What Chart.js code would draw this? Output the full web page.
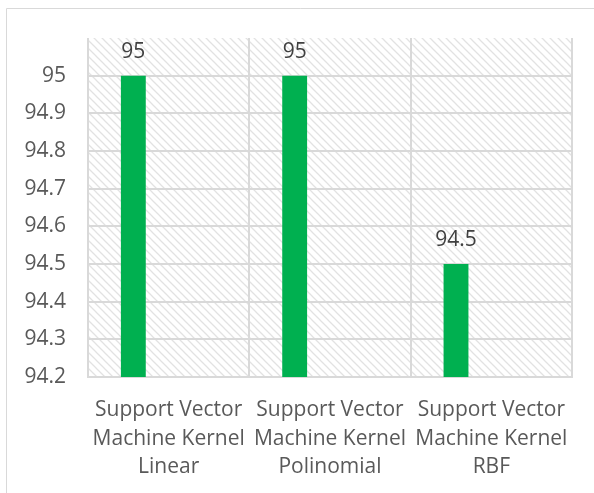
<!DOCTYPE html>
<html>
<head>
<meta charset="utf-8">
<script src="https://cdn.jsdelivr.net/npm/chart.js@4.4.1/dist/chart.umd.min.js"></script>
<style>
  html, body { margin: 0; padding: 0; background: #fff; overflow: hidden; }
  #wrap { position: relative; width: 594px; height: 493px; }
</style>
</head>
<body>
<div id="wrap"><canvas id="accChart" width="594" height="493"></canvas></div>
<script>
// Accuracy per SVM kernel
const kernels = [
  ['Support Vector', 'Machine Kernel', 'Linear'],
  ['Support Vector', 'Machine Kernel', 'Polinomial'],
  ['Support Vector', 'Machine Kernel', 'RBF']
];
const accuracy = [95, 95, 94.5];
// empty series kept so the bars sit in the left slot of each group
const emptySeries = [null, null, null];

const yMin = 94.2;
const yMax = 95.1;
const yStep = 0.1;

const FONT = "'Open Sans', sans-serif";
const GRID = '#d9d9d9';

// light downward-diagonal hatch used as plot background
function makeHatch() {
  const c = document.createElement('canvas');
  c.width = 8; c.height = 8;
  const g = c.getContext('2d');
  g.fillStyle = '#fff';
  g.fillRect(0, 0, 8, 8);
  g.strokeStyle = '#e2e2e2';
  g.lineWidth = 1.3;
  g.beginPath();
  g.moveTo(-2, -2); g.lineTo(10, 10);
  g.moveTo(-2, 6); g.lineTo(2, 10);
  g.moveTo(6, -2); g.lineTo(10, 2);
  g.stroke();
  return g.createPattern(c, 'repeat');
}

const backdrop = {
  id: 'backdrop',
  beforeDraw(chart) {
    const { ctx, chartArea: a } = chart;
    ctx.save();
    ctx.fillStyle = makeHatch();
    ctx.fillRect(a.left, a.top, a.right - a.left, a.bottom - a.top);
    // outer frame (left and top edges)
    ctx.strokeStyle = GRID;
    ctx.lineWidth = 1;
    ctx.beginPath();
    ctx.moveTo(6.5, 493);
    ctx.lineTo(6.5, 8.5);
    ctx.lineTo(594, 8.5);
    ctx.stroke();
    ctx.restore();
  }
};

const valueLabels = {
  id: 'valueLabels',
  afterDatasetsDraw(chart) {
    const { ctx } = chart;
    const meta = chart.getDatasetMeta(0);
    ctx.save();
    ctx.font = '21px ' + FONT;
    ctx.fillStyle = '#404040';
    ctx.textAlign = 'center';
    ctx.textBaseline = 'middle';
    meta.data.forEach((bar, i) => {
      ctx.fillText(String(accuracy[i]), bar.x, bar.y - 24);
    });
    ctx.restore();
  }
};

new Chart(document.getElementById('accChart'), {
  type: 'bar',
  data: {
    labels: kernels,
    datasets: [
      { data: accuracy, backgroundColor: '#00b050', borderWidth: 0 },
      { data: emptySeries, backgroundColor: 'transparent' },
      { data: emptySeries, backgroundColor: 'transparent' }
    ]
  },
  options: {
    responsive: false,
    animation: false,
    categoryPercentage: 0.657,
    barPercentage: 0.704,
    layout: { padding: { top: 38, right: 22, left: 0, bottom: 0 } },
    plugins: {
      legend: { display: false },
      tooltip: { enabled: false }
    },
    scales: {
      y: {
        min: yMin,
        max: yMax,
        afterFit(scale) { scale.width = 88; },
        afterBuildTicks(scale) {
          const t = [];
          for (let i = 0; i <= 8; i++) t.push({ value: +(yMin + i * yStep).toFixed(1) });
          scale.ticks = t;
        },
        ticks: {
          padding: 22,
          color: '#595959',
          font: { family: FONT, size: 21 },
          callback: v => String(v)
        },
        grid: { color: GRID, lineWidth: 2, drawTicks: false },
        border: { display: false }
      },
      x: {
        afterFit(scale) { scale.height = 116; },
        ticks: {
          padding: 19,
          color: '#595959',
          maxRotation: 0,
          autoSkip: false,
          font: { family: FONT, size: 21, lineHeight: 1.36 }
        },
        grid: { offset: true, color: GRID, lineWidth: 2, drawTicks: false },
        border: { color: GRID, width: 2 }
      }
    }
  },
  plugins: [backdrop, valueLabels]
});
</script>
</body>
</html>
